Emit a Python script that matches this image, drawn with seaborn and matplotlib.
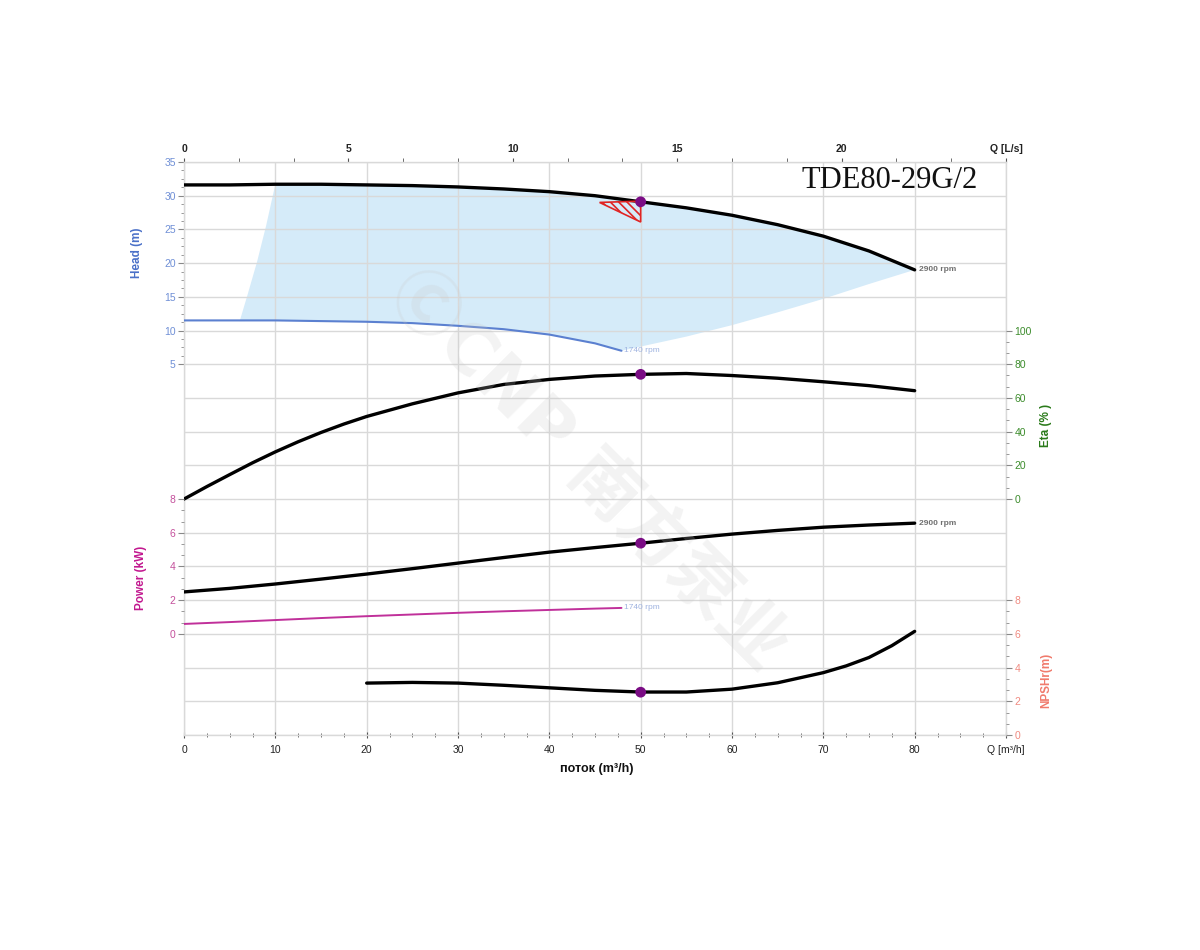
import numpy as np
import matplotlib
matplotlib.use("Agg")
import matplotlib.pyplot as plt
import seaborn as sns

# ---------------- data ----------------
q_main = [0, 5, 10, 15, 20, 25, 30, 35, 40, 45, 50, 55, 60, 65, 70, 75, 80]
head_2900 = [31.6, 31.6, 31.7, 31.7, 31.6, 31.5, 31.3, 31.0, 30.6, 30.0, 29.1,
             28.2, 27.1, 25.7, 24.0, 21.8, 19.0]
power_2900 = [2.49, 2.70, 2.96, 3.25, 3.55, 3.87, 4.20, 4.53, 4.85, 5.12, 5.38,
              5.66, 5.92, 6.14, 6.33, 6.46, 6.57]

q_eta = [0, 2.5, 5, 7.5, 10, 12.5, 15, 17.5, 20, 25, 30, 35, 40, 45, 50, 55, 60,
         65, 70, 75, 80]
eta_2900 = [0, 7.4, 14.5, 21.5, 28, 34, 39.5, 44.5, 49, 56.5, 63, 68, 71, 73, 74,
            74.5, 73.3, 71.7, 69.6, 67.3, 64.3]

q_1740 = [0, 5, 10, 15, 20, 25, 30, 35, 40, 45, 47.9]
head_1740 = [11.5, 11.5, 11.5, 11.4, 11.3, 11.1, 10.7, 10.2, 9.4, 8.1, 7.0]
power_1740 = [0.59, 0.70, 0.82, 0.94, 1.05, 1.15, 1.25, 1.34, 1.42, 1.50, 1.54]

q_npsh = [20, 25, 30, 35, 40, 45, 50, 55, 60, 65, 70, 72.5, 75, 77.5, 80]
npsh_r = [3.08, 3.12, 3.08, 2.95, 2.80, 2.65, 2.55, 2.55, 2.72, 3.10, 3.70, 4.10,
          4.60, 5.30, 6.15]

duty_q = [50]
duty_head = [29.1]
duty_eta = [74]
duty_power = [5.38]
duty_npsh = [2.54]

# operating envelope edges
env_left_q = [6.1, 7, 8, 9, 10]
env_left_h = [11.4, 15.5, 20.2, 25.6, 31.7]
env_right_q = [80, 75, 70, 65, 60, 55, 47.9]
env_right_h = [19.0, 16.9, 14.7, 12.7, 10.8, 9.1, 7.0]

# duty tolerance triangle
tol_q = [45.5, 50, 50]
tol_h = [29.0, 29.2, 26.1]

x_ticks_m3h = [0, 10, 20, 30, 40, 50, 60, 70, 80, 90]
x_labels_m3h = ["0", "10", "20", "30", "40", "50", "60", "70", "80", "Q [m³/h]"]
x_ticks_ls = [0, 5, 10, 15, 20, 25]
x_labels_ls = ["0", "5", "10", "15", "20", "Q [L/s]"]
head_ticks = [5, 10, 15, 20, 25, 30, 35]
eta_ticks = [0, 20, 40, 60, 80, 100]
power_ticks = [0, 2, 4, 6, 8]
npsh_ticks = [0, 2, 4, 6, 8]

title = "TDE80-29G/2"

# ---------------- style ----------------
sns.set_theme(style="white")
plt.rcParams["font.family"] = ["Liberation Sans", "DejaVu Sans", "Noto Sans CJK SC"]
plt.rcParams["hatch.linewidth"] = 1.2
plt.rcParams["lines.solid_joinstyle"] = "round"

fig = plt.figure(figsize=(12, 9.5), dpi=100)
L, R, T, B = 184 / 1200, 1006 / 1200, 1 - 162 / 950, 1 - 735 / 950
ax = fig.add_axes([L, B, R - L, T - B])
ax.set_facecolor("none")

GRID = "#d9d9d9"
HEAD_C, HEAD_L = "#6f8fd6", "#4a70c8"
ETA_C, ETA_L = "#3c8c2c", "#2a7a1a"
POW_C, POW_L = "#c4509c", "#c2188f"
NPSH_C, NPSH_L = "#f08a80", "#f07a6c"
DUTY = "#7a0c84"

# main axis = head (m)
ax.set_xlim(0, 90)
ax.set_ylim(-50, 35)

# grid
ax.hlines(np.arange(-50, 35.1, 5), 0, 1, transform=ax.get_yaxis_transform(),
          colors=GRID, lw=1, zorder=1)
ax.set_xticks(x_ticks_m3h)
ax.set_xticklabels(x_labels_m3h)
ax.set_xticks(np.arange(0, 90.1, 2.5), minor=True)
ax.grid(axis="x", which="major", color=GRID, lw=1, zorder=1)
ax.set_axisbelow(True)
for s in ax.spines.values():
    s.set_color(GRID)
    s.set_linewidth(1)
ax.tick_params(axis="x", which="major", length=4, width=0.8, color="#555555",
               direction="inout", labelsize=7.5, labelcolor="#222222", pad=5, bottom=True)
ax.tick_params(axis="x", which="minor", length=3, width=0.6, color="#555555",
               direction="inout", bottom=True)

ax.set_yticks(head_ticks)
ax.set_yticks(np.arange(5, 35.01, 1.25), minor=True)
ax.tick_params(axis="y", which="major", length=4, width=0.8, color="#888888",
               direction="out", labelsize=7.5, labelcolor=HEAD_C, left=True, pad=2)
ax.tick_params(axis="y", which="minor", length=2, width=0.6, color="#888888",
               direction="out", left=True)

# envelope fill
pq = list(env_left_q) + [q for q in q_main if q > 10] + list(env_right_q[1:]) \
     + [q for q in q_1740[::-1] if 6.1 < q < 47.9]
ph = list(env_left_h) + [h for q, h in zip(q_main, head_2900) if q > 10] + list(env_right_h[1:]) \
     + [h for q, h in zip(q_1740[::-1], head_1740[::-1]) if 6.1 < q < 47.9]
ax.fill(pq, ph, color="#d5ebf9", lw=0, zorder=0.5)

# watermark
fig.text(0.49, 0.505, "ⒸCNP 南方泵业", rotation=-45, ha="center", va="center",
         fontsize=50, fontweight="bold", color="#c8c8c8", alpha=0.22,
         family=["DejaVu Sans", "Noto Sans CJK SC"], zorder=2)

# head curves
sns.lineplot(x=q_main, y=head_2900, ax=ax, color="black", lw=2.4, zorder=4)
sns.lineplot(x=q_1740, y=head_1740, ax=ax, color="#5b80d0", lw=1.5, zorder=4)
ax.fill(tol_q, tol_h, facecolor="none", edgecolor="#e02424", hatch="\\\\\\\\",
        lw=1.2, zorder=5)
sns.scatterplot(x=duty_q, y=duty_head, ax=ax, color=DUTY, s=60, edgecolor="none", zorder=6)
ax.text(q_main[-1] + 0.5, head_2900[-1], "2900 rpm", fontsize=6, fontweight="bold",
        color="#707070", va="center", ha="left", zorder=6)
ax.text(q_1740[-1] + 0.3, head_1740[-1], "1740 rpm", fontsize=6, color="#9fb3e0",
        va="center", ha="left", zorder=6)

# top axis in L/s
secx = ax.secondary_xaxis("top", functions=(lambda q: q / 3.6, lambda l: l * 3.6))
secx.set_xticks(x_ticks_ls)
secx.set_xticklabels(x_labels_ls)
secx.set_xticks(np.arange(0, 25, 5 / 3), minor=True)
secx.spines["top"].set_visible(False)
secx.tick_params(axis="x", which="major", length=3, width=0.8, color="#555555",
                 labelsize=7.5, labelcolor="#222222", pad=3)
secx.tick_params(axis="x", which="minor", length=3, width=0.6, color="#555555")
for lab in secx.get_xticklabels():
    lab.set_fontweight("bold")

# eta axis (right)
ax_eta = ax.twinx()
ax_eta.set_ylim(-140, 200)
sns.lineplot(x=q_eta, y=eta_2900, ax=ax_eta, color="black", lw=2.4, zorder=4)
sns.scatterplot(x=duty_q, y=duty_eta, ax=ax_eta, color=DUTY, s=60, edgecolor="none", zorder=6)
ax_eta.set_yticks(eta_ticks)
ax_eta.set_yticks(np.arange(0, 100.1, 20 / 3), minor=True)
ax_eta.tick_params(axis="y", which="major", length=4, width=0.8, color="#888888",
                   labelsize=7.5, labelcolor=ETA_C, right=True, pad=2)
ax_eta.tick_params(axis="y", which="minor", length=2, width=0.6, color="#888888", right=True)
for s in ax_eta.spines.values():
    s.set_visible(False)
ax_eta.set_ylabel("")

# power axis (left)
ax_pow = ax.twinx()
ax_pow.set_ylim(-6, 28)
sns.lineplot(x=q_main, y=power_2900, ax=ax_pow, color="black", lw=2.4, zorder=4)
sns.lineplot(x=q_1740, y=power_1740, ax=ax_pow, color="#c0309a", lw=1.4, zorder=4)
sns.scatterplot(x=duty_q, y=duty_power, ax=ax_pow, color=DUTY, s=60, edgecolor="none", zorder=6)
ax_pow.text(q_main[-1] + 0.5, power_2900[-1], "2900 rpm", fontsize=6, fontweight="bold",
            color="#707070", va="center", ha="left")
ax_pow.text(q_1740[-1] + 0.3, power_1740[-1], "1740 rpm", fontsize=6, color="#9fb3e0",
            va="center", ha="left")
ax_pow.yaxis.tick_left()
ax_pow.set_yticks(power_ticks)
ax_pow.set_yticks(np.arange(0, 8.01, 2 / 3), minor=True)
ax_pow.tick_params(axis="y", which="major", length=4, width=0.8, color="#888888",
                   labelsize=7.5, labelcolor=POW_C, left=True, right=False, pad=2)
ax_pow.tick_params(axis="y", which="minor", length=2, width=0.6, color="#888888",
                   left=True, right=False)
for s in ax_pow.spines.values():
    s.set_visible(False)
ax_pow.set_ylabel("")

# NPSH axis (right)
ax_np = ax.twinx()
ax_np.set_ylim(0, 34)
sns.lineplot(x=q_npsh, y=npsh_r, ax=ax_np, color="black", lw=2.4, zorder=4)
sns.scatterplot(x=duty_q, y=duty_npsh, ax=ax_np, color=DUTY, s=60, edgecolor="none", zorder=6)
ax_np.set_yticks(npsh_ticks)
ax_np.set_yticks(np.arange(0, 8.01, 2 / 3), minor=True)
ax_np.tick_params(axis="y", which="major", length=4, width=0.8, color="#888888",
                  labelsize=7.5, labelcolor=NPSH_C, right=True, pad=2)
ax_np.tick_params(axis="y", which="minor", length=2, width=0.6, color="#888888", right=True)
for s in ax_np.spines.values():
    s.set_visible(False)
ax_np.set_ylabel("")

for a in (ax_eta, ax_pow, ax_np):
    a.set_xlim(0, 90)
    a.tick_params(axis="x", bottom=False, top=False, labelbottom=False)

# axis titles
fig.text(137 / 1200, 1 - 253 / 950, "Head (m)", rotation=90, ha="center", va="center",
         fontsize=8.5, fontweight="bold", color=HEAD_L)
fig.text(141 / 1200, 1 - 578 / 950, "Power (kW)", rotation=90, ha="center", va="center",
         fontsize=8.5, fontweight="bold", color=POW_L)
fig.text(1046 / 1200, 1 - 425 / 950, "Eta (% )", rotation=90, ha="center", va="center",
         fontsize=8.5, fontweight="bold", color=ETA_L)
fig.text(1046 / 1200, 1 - 680 / 950, "NPSHr(m)", rotation=90, ha="center", va="center",
         fontsize=8.5, fontweight="bold", color=NPSH_L)
fig.text(597 / 1200, 1 - 769 / 950, "поток (m³/h)", ha="center", va="center",
         fontsize=9, fontweight="bold", color="#111111")

# title
fig.text(978 / 1200, 1 - 180 / 950, title, ha="right", va="center", fontsize=22,
         family=["Liberation Serif", "DejaVu Serif"], color="#111111")

fig.savefig("out.png", dpi=100, facecolor="white")
